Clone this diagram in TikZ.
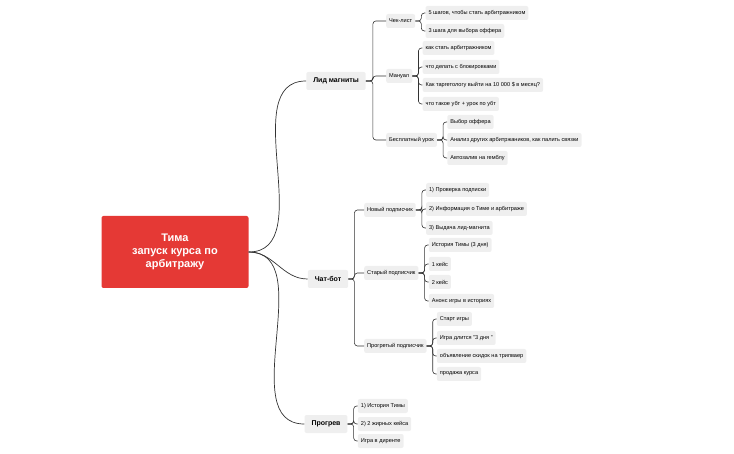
\documentclass[tikz,border=0pt]{standalone}
\usepackage{fontspec}
\setmainfont{Liberation Sans}
\definecolor{rootred}{HTML}{E53935}
\definecolor{boxgray}{HTML}{EFEFEF}
\tikzset{
  rootbox/.style={fill=rootred,text=white,font=\bfseries\fontsize{11}{13}\selectfont,
    rounded corners=2pt,minimum width=147pt,minimum height=72pt,align=center},
  mainbox/.style={fill=boxgray,font=\bfseries\fontsize{7}{8}\selectfont,rounded corners=2pt,
    minimum height=18pt,inner xsep=7pt},
  leaf/.style={fill=boxgray,font=\fontsize{5.6}{7}\selectfont,rounded corners=2pt,
    minimum height=14pt,inner xsep=3pt,anchor=west},
  link/.style={draw=black!80,line width=0.7pt},
  br/.style={draw=black!80,line width=0.6pt,rounded corners=3pt}
}
\begin{document}
\begin{tikzpicture}[x=1pt,y=-1pt]
\useasboundingbox (0,0) rectangle (734,454);
% root and main topics
\node[rootbox] (root) at (175,252) {Тима\\запуск курса по\\арбитражу};
\node[mainbox] (lead) at (336,81) {Лид магниты};
\node[mainbox] (bot) at (328,279) {Чат-бот};
\node[mainbox] (warm) at (326,424) {Прогрев};
\foreach \m in {lead,bot,warm}
  \draw[link] (root.east) to[out=0,in=180] (\m.west);
% second level
\node[leaf] (check) at (386,21) {Чек-лист};
\node[leaf] (manual) at (386,76) {Мануал};
\node[leaf] (lesson) at (386,140) {Бесплатный урок};
\node[leaf] (new) at (364,210) {Новый подписчик};
\node[leaf] (old) at (364,273) {Старый подписчик};
\node[leaf] (hot) at (364,346) {Прогретый подписчик};
\foreach \c in {check,manual,lesson} \draw[br] (lead.east) -- ++(7,0) |- (\c.west);
\foreach \c in {new,old,hot} \draw[br] (bot.east) -- ++(6,0) |- (\c.west);
% leaves
\foreach \n/\p/\y/\t in {
  c1/check/13/{5 шагов, чтобы стать арбитражником},
  c2/check/31/{3 шага для выбора оффера},
  m1/manual/48/{как стать арбитражником},
  m2/manual/67/{что делать с блокировками},
  m3/manual/85/{Как таргетологу выйти на 10 000 \$ в месяц?},
  m4/manual/104/{что такое убт + урок по убт},
  l1/lesson/122/{Выбор оффера},
  l2/lesson/140/{Анализ других арбитржаников, как палить связки},
  l3/lesson/158/{Автозалив на гемблу},
  n1/new/190/{1) Проверка подписки},
  n2/new/209/{2) Информация о Тиме и арбитраже},
  n3/new/228/{3) Выдача лид-магнита},
  o1/old/245/{История Тимы (3 дня)},
  o2/old/264/{1 кейс},
  o3/old/282/{2 кейс},
  o4/old/301/{Анонс игры в историях},
  h1/hot/319/{Старт игры},
  h2/hot/338/{Игра длится "3 дня "},
  h3/hot/356/{объявление скидок на трипваер},
  h4/hot/374/{продажа курса},
  w1/warm/406/{1) История Тимы},
  w2/warm/424/{2) 2 жирных кейса},
  w3/warm/441/{Игра в диренте}}
{
  \path (\p.east) ++(10,0) coordinate (tmp);
  \node[leaf] (\n) at (tmp |- 0,\y) {\t};
  \draw[br] (\p.east) -- ++(6,0) |- (\n.west);
}
\end{tikzpicture}
\end{document}
